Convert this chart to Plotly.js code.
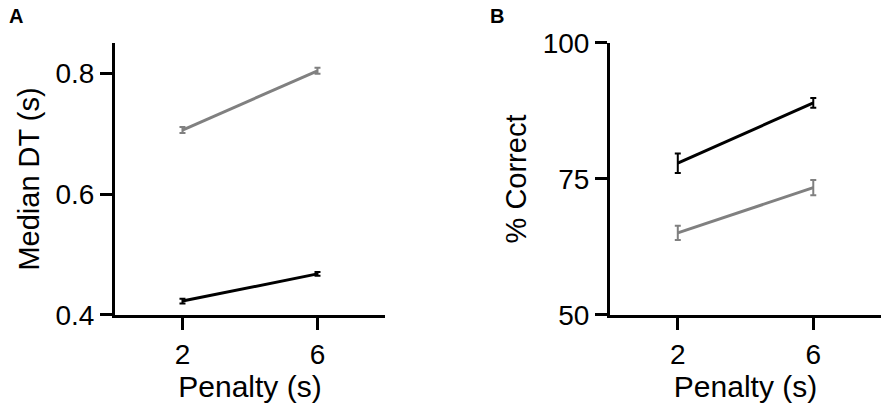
<!DOCTYPE html>
<html>
<head>
<meta charset="utf-8">
<script src="https://cdn.plot.ly/plotly-3.0.1.min.js"></script>
<style>
  html, body { margin: 0; padding: 0; background: #fff; }
  #chart { width: 892px; height: 411px; }
</style>
</head>
<body>
<div id="chart"></div>
<script>
const penalty = [2, 6];

// Panel A: median decision time (s)
const dtGray = [0.706, 0.804];
const dtGrayErr = [0.005, 0.005];
const dtBlack = [0.423, 0.468];
const dtBlackErr = [0.004, 0.003];

// Panel B: percent correct
const pcBlack = [77.9, 89.0];
const pcBlackErr = [1.8, 0.9];
const pcGray = [65.1, 73.4];
const pcGrayErr = [1.3, 1.4];

const GRAY = '#808080';
const FONT = 'Liberation Sans, Arial, Helvetica, sans-serif';

function series(y, err, color, xa, ya) {
    return {
        x: penalty,
        y: y,
        xaxis: xa,
        yaxis: ya,
        type: 'scatter',
        mode: 'lines',
        line: { color: color, width: 3 },
        error_y: { type: 'data', array: err, visible: true, color: color, thickness: 2, width: 3 },
        hoverinfo: 'skip',
        showlegend: false
    };
}

const traces = [
    series(dtGray, dtGrayErr, GRAY, 'x', 'y'),
    series(dtBlack, dtBlackErr, '#000', 'x', 'y'),
    series(pcGray, pcGrayErr, GRAY, 'x2', 'y2'),
    series(pcBlack, pcBlackErr, '#000', 'x2', 'y2')
];

const axisBase = {
    showgrid: false,
    zeroline: false,
    showline: true,
    linecolor: '#000',
    linewidth: 3,
    ticks: 'outside',
    ticklen: 12,
    tickwidth: 3,
    tickcolor: '#000',
    tickfont: { family: FONT, size: 28, color: '#000' },
    fixedrange: true
};

function xAxis(domain, anchor) {
    return Object.assign({}, axisBase, {
        domain: domain,
        anchor: anchor,
        range: [0, 8],
        tickvals: penalty,
        title: { text: 'Penalty (s)', font: { family: FONT, size: 30, color: '#000' }, standoff: 2 }
    });
}

function yAxis(domain, anchor, range, vals, title) {
    return Object.assign({}, axisBase, {
        domain: domain,
        anchor: anchor,
        range: range,
        tickvals: vals,
        ticktext: vals.map(v => String(v)),
        title: { text: title, font: { family: FONT, size: 29, color: '#000' }, standoff: 8 }
    });
}

const layout = {
    width: 892,
    height: 411,
    margin: { l: 0, r: 0, t: 0, b: 0 },
    paper_bgcolor: '#fff',
    plot_bgcolor: '#fff',
    xaxis: xAxis([0.1289, 0.4316], 'y'),
    yaxis: yAxis([0.2336, 0.8954], 'x', [0.4, 0.85], [0.4, 0.6, 0.8], 'Median DT (s)'),
    xaxis2: xAxis([0.6839, 0.9877], 'y2'),
    yaxis2: yAxis([0.2336, 0.8954], 'x2', [50, 100], [50, 75, 100], '% Correct'),
    annotations: [
        { text: '<b>A</b>', x: 0.008, y: 0.961, xref: 'paper', yref: 'paper', xanchor: 'left', yanchor: 'middle', showarrow: false, font: { family: FONT, size: 20, color: '#000' } },
        { text: '<b>B</b>', x: 0.547, y: 0.961, xref: 'paper', yref: 'paper', xanchor: 'left', yanchor: 'middle', showarrow: false, font: { family: FONT, size: 20, color: '#000' } }
    ]
};

Plotly.newPlot('chart', traces, layout, { staticPlot: true });
</script>
</body>
</html>
